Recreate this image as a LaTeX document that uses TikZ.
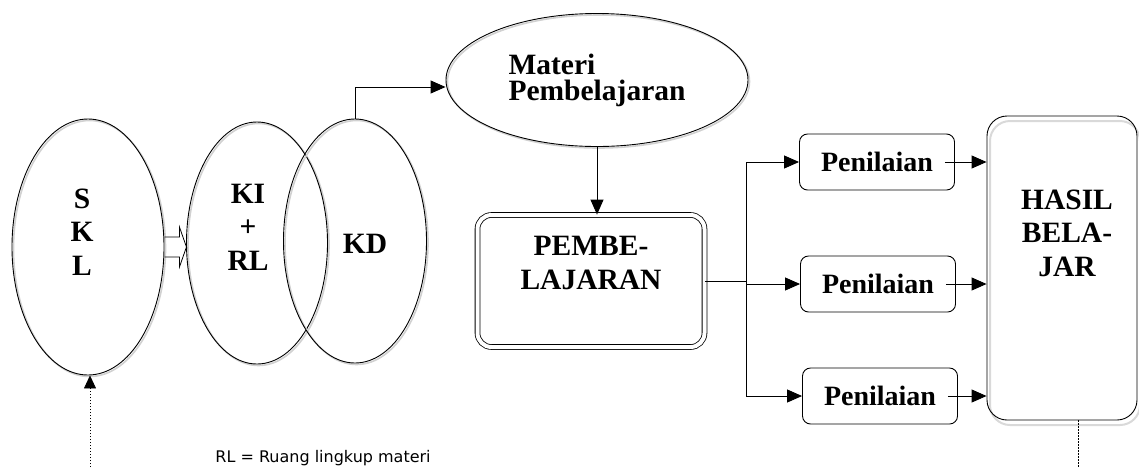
\documentclass[tikz,border=0pt]{standalone}
\usepackage{fontspec}
\setmainfont{Liberation Serif}
\newfontfamily\notefont{DejaVu Sans}
\usetikzlibrary{arrows.meta, shapes.geometric, positioning}

\begin{document}
\begin{tikzpicture}[x=1pt, y=-1pt, line width=0.9pt,
		shade/.style={preaction={draw=black!18, line width=1.6pt, transform canvas={shift={(1.5pt,-1.5pt)}}}},
		oval/.style={draw, ellipse, inner sep=0pt, shade},
		pbox/.style={draw, rounded corners=8pt, minimum width=155pt, minimum height=56pt, inner sep=0pt,
			font=\fontsize{28}{33}\selectfont\bfseries},
		txt/.style={align=center, inner sep=0pt, font=\fontsize{29.5}{33.5}\selectfont\bfseries}]
	\useasboundingbox (0,0) rectangle (1139,467);

	% ovals
	\node[oval, minimum width=152pt, minimum height=256pt] (skl) at (88,247) {};
	\node[oval, minimum width=141pt, minimum height=242pt] (kirl) at (257,243) {};
	\node[oval, minimum width=143pt, minimum height=244pt] (kd) at (355,241) {};
	\node[oval, minimum width=302pt, minimum height=133pt, align=left,
		font=\fontsize{29.5}{26}\selectfont\bfseries] (materi) at (597,80) {Materi\\Pembelajaran};

	\node[txt] (skl-txt) at (82,232) {S\\K\\L};
	\node[txt] (kirl-txt) at (248,227) {KI\\+\\RL};
	\node[txt] (kd-txt) at (365,244) {KD};

	% boxes
	\node[draw, double, double distance=4pt, line width=0.8pt, rounded corners=14pt,
		minimum width=227pt, minimum height=132pt] (pemb) at (591,281) {};
	\node[txt] (pemb-txt) at (591,263) {PEMBE-\\LAJARAN};

	\foreach \i/\x/\y in {1/877/162, 2/878/284, 3/880/396}
	{
		\node[pbox] (p\i) at (\x,\y) {Penilaian};
	}

	\node[draw, rounded corners=20pt, minimum width=150pt, minimum height=304pt,
		preaction={draw=black!15, line width=2pt, transform canvas={shift={(3pt,-5pt)}}}] (hasil) at (1062,268) {};
	\node[txt] (hasil-txt) at (1067,233) {HASIL\\BELA-\\JAR};

	\node[anchor=base west, inner sep=0pt, font=\notefont\fontsize{16}{18}\selectfont] (note) at (215,462) {RL = Ruang lingkup materi};

	\coordinate (bus) at (746,281);
	\coordinate (skl-in) at (90,467);
	\coordinate (hasil-out) at (1078,467);

	% hollow arrow
	\draw[line width=0.8pt] (skl.east) ++(0,-10) -- ++(15,0) -- ++(0,-10) -- ++(7,20)
		-- ++(-7,20) -- ++(0,-10) -- ++(-15,0);

	% connectors
	\begin{scope}[-{Triangle[length=15pt, width=13pt]}]
		\draw (kd.north) |- ([yshift=-7pt]materi.west);
		\draw (materi.south) -- (materi.south |- pemb.north);
		\foreach \i in {1,2,3}
		{
			\draw (bus) |- (p\i.west);
			\draw[shorten <=-10pt] (p\i.east) -- (p\i.east -| hasil.west);
		}
	\end{scope}
	\draw (pemb.east) -- (bus);

	\begin{scope}[line width=0.6pt, dash pattern=on 1.5pt off 1.5pt]
		\draw[-{Triangle[length=13pt, width=12pt]}] (skl-in) -- (skl-in |- skl.south);
		\draw (hasil-out |- hasil.south) -- (hasil-out);
	\end{scope}
\end{tikzpicture}
\end{document}
